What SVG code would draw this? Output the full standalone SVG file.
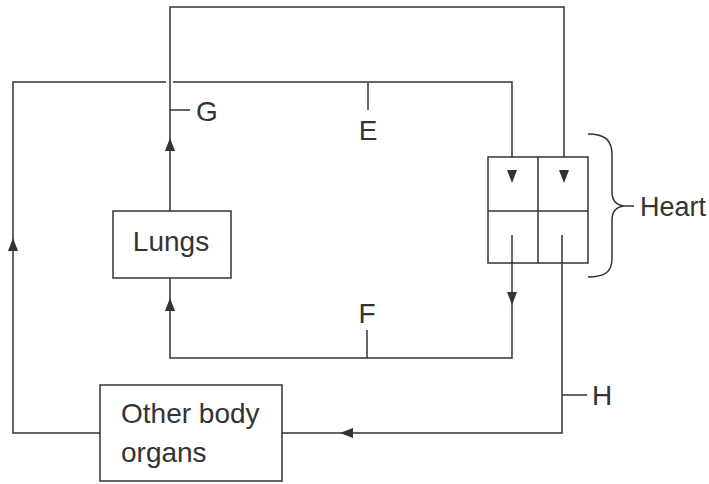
<svg xmlns="http://www.w3.org/2000/svg" xmlns:xlink="http://www.w3.org/1999/xlink" width="709" height="484" viewBox="0 0 709 484">
<style>
.ln{fill:none;stroke:#333;stroke-width:1.5}
.bx{fill:#fff;stroke:#333;stroke-width:1.5}
.tx{font-family:"Liberation Sans",Arial,sans-serif;font-size:28px;fill:#333}
.ah{fill:#333}
</style>
<defs>
<path id="ah" d="M0,0 L5,13 L-5,13 Z"/>
</defs>
<rect width="709" height="484" fill="#fff"/>
<g id="connectors">
<path class="ln" d="M170,211 V7 H564 V170"/>
<path class="ln" d="M100,433 H13 V82 H166 M173,82 H512 V170"/>
<path class="ln" d="M512,235 V358 H170 V278"/>
<path class="ln" d="M562,235 V433 H282"/>
<path class="ln" d="M170,110 H190"/>
<path class="ln" d="M368,83 V110"/>
<path class="ln" d="M367,330 V358"/>
<path class="ln" d="M562,395 H587"/>
<use class="ah" xlink:href="#ah" transform="translate(170,138)"/>
<use class="ah" xlink:href="#ah" transform="translate(170,298)"/>
<use class="ah" xlink:href="#ah" transform="translate(13,238)"/>
<use class="ah" xlink:href="#ah" transform="translate(512,305) rotate(180)"/>
<use class="ah" xlink:href="#ah" transform="translate(340,433) rotate(-90)"/>
</g>
<g id="lungs">
<rect class="bx" x="113" y="211" width="118" height="67"/>
<text class="tx" x="171" y="251" text-anchor="middle">Lungs</text>
</g>
<g id="organs">
<rect class="bx" x="100" y="385" width="182" height="96"/>
<text class="tx" x="121" y="423">Other body</text>
<text class="tx" x="121" y="462">organs</text>
</g>
<g id="heart">
<rect class="bx" x="488" y="157" width="100" height="106"/>
<path class="ln" d="M488,211 H588 M538,157 V263"/>
<path class="ln" d="M512,235 V263 M562,235 V263"/>
<use class="ah" xlink:href="#ah" transform="translate(512,183) rotate(180)"/>
<use class="ah" xlink:href="#ah" transform="translate(564,183) rotate(180)"/>
<path class="ln" d="M588,134 C605,134 612,140 612,155 L612,192 C612,200 616,205 624,206 C616,207 612,212 612,220 L612,258 C612,272 605,277 588,277 M624,206 H634"/>
<text class="tx" x="640" y="216" style="font-size:27px">Heart</text>
</g>
<g id="labels">
<text class="tx" x="196" y="121">G</text>
<text class="tx" x="368" y="140" text-anchor="middle">E</text>
<text class="tx" x="367" y="323" text-anchor="middle">F</text>
<text class="tx" x="592" y="405">H</text>
</g>
</svg>
